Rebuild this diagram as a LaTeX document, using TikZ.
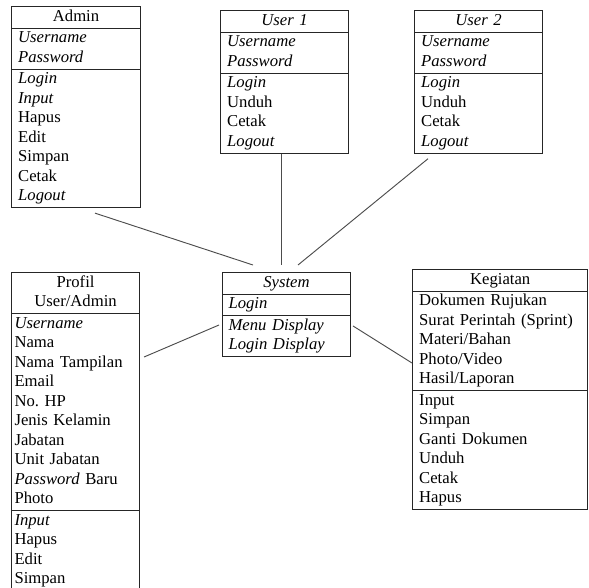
\documentclass[tikz,border=0pt]{standalone}
\usepackage{fontspec}
\setmainfont{Liberation Serif}
\usetikzlibrary{shapes.multipart, calc}

\tikzset{
  umlclass/.style={draw=black!85, line width=0.8pt, rectangle split, rectangle split parts=3,
    anchor=north west, align=left, inner xsep=5pt, inner ysep=0.4pt,
    font=\fontsize{12.5}{14.6}\selectfont},
  link/.style={line width=0.7pt, black!70}
}
% centred title line of a class
\newcommand{\ctitle}[1]{\makebox[\hsize][c]{\strut#1}}

\begin{document}
\begin{tikzpicture}[x=0.75pt, y=-0.75pt]
        % Frame of the picture
        \useasboundingbox (0,0) rectangle (589,588);

        % Classes on top
        \node[umlclass, text width=86.75pt] (admin) at (11,6)
          {\ctitle{Admin}
           \nodepart{two}\strut\textit{Username}\\\textit{Password}\strut
           \nodepart{three}\strut\textit{Login}\\\textit{Input}\\Hapus\\Edit\\Simpan\\Cetak\\\textit{Logout}\strut};
        \node[umlclass, text width=86pt] (user1) at (220,10)
          {\ctitle{\textit{User 1}}
           \nodepart{two}\strut\textit{Username}\\\textit{Password}\strut
           \nodepart{three}\strut\textit{Login}\\Unduh\\Cetak\\\textit{Logout}\strut};
        \node[umlclass, text width=86pt] (user2) at (414,10)
          {\ctitle{\textit{User 2}}
           \nodepart{two}\strut\textit{Username}\\\textit{Password}\strut
           \nodepart{three}\strut\textit{Login}\\Unduh\\Cetak\\\textit{Logout}\strut};

        % Classes below
        \node[umlclass, text width=87pt, inner xsep=4.5pt] (system) at (222,272)
          {\ctitle{\textit{System}}
           \nodepart{two}\strut\textit{Login}\strut
           \nodepart{three}\strut\textit{Menu Display}\\\textit{Login Display}\strut};
        \node[umlclass, text width=91.5pt, inner xsep=2.25pt] (profil) at (11,272)
          {\ctitle{Profil}\\\ctitle{User/Admin}
           \nodepart{two}\strut\textit{Username}\\Nama\\Nama Tampilan\\Email\\No.\ HP\\Jenis Kelamin\\Jabatan\\Unit Jabatan\\\textit{Password} Baru\\Photo\strut
           \nodepart{three}\strut\textit{Input}\\Hapus\\Edit\\Simpan\strut};
        \node[umlclass, text width=121.5pt] (kegiatan) at (412,269)
          {\ctitle{Kegiatan}
           \nodepart{two}\strut Dokumen Rujukan\\Surat Perintah (Sprint)\\Materi/Bahan\\Photo/Video\\Hasil/Laporan\strut
           \nodepart{three}\strut Input\\Simpan\\Ganti Dokumen\\Unduh\\Cetak\\Hapus\strut};

        % Associations
        \draw[link] ($(admin.south west)+(84,5)$) -- ($(system.north west)+(31,-7)$);
        \draw[link] ($(user1.south west)+(61,0)$) -- ($(system.north west)+(59,-7)$);
        \draw[link] ($(user2.south west)+(14,5)$) -- ($(system.north west)+(76,-7)$);
        \draw[link] ($(profil.north east)+(4,85)$) -- ($(system.north west)+(-3,53)$);
        \draw[link] ($(system.north east)+(2,54)$) -- ($(kegiatan.north west)+(0,94)$);
    \end{tikzpicture}
\end{document}
